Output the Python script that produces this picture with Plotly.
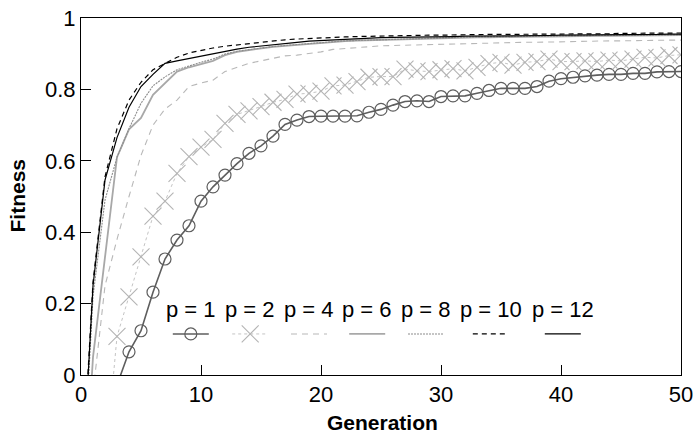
import plotly.graph_objects as go

generations = list(range(0, 51))

p1 = [-0.6, -0.4, -0.2, -0.028, 0.065, 0.124, 0.232, 0.325, 0.378, 0.418,
      0.487, 0.527, 0.56, 0.592, 0.621, 0.642, 0.669, 0.702, 0.714, 0.724,
      0.725, 0.725, 0.725, 0.726, 0.736, 0.744, 0.756, 0.766, 0.768, 0.766,
      0.78, 0.782, 0.782, 0.789, 0.797, 0.803, 0.803, 0.803, 0.808, 0.823,
      0.83, 0.834, 0.838, 0.84, 0.842, 0.842, 0.845, 0.845, 0.849, 0.85, 0.85]

p2 = [-0.9, -0.6, -0.26, 0.108, 0.219, 0.331, 0.445, 0.487, 0.565, 0.612,
      0.638, 0.66, 0.705, 0.73, 0.74, 0.752, 0.764, 0.772, 0.787, 0.789,
      0.795, 0.81, 0.812, 0.822, 0.834, 0.836, 0.836, 0.857, 0.852, 0.85,
      0.855, 0.858, 0.852, 0.862, 0.872, 0.876, 0.868, 0.876, 0.878, 0.885,
      0.878, 0.878, 0.88, 0.878, 0.882, 0.88, 0.885, 0.89, 0.888, 0.895, 0.897]

p4 = [-0.6, -0.05, 0.25, 0.38, 0.50, 0.615, 0.70, 0.745, 0.77, 0.808,
      0.818, 0.826, 0.85, 0.862, 0.873, 0.88, 0.888, 0.894, 0.896, 0.90,
      0.905, 0.912, 0.915, 0.918, 0.92, 0.922, 0.923, 0.924, 0.924, 0.925,
      0.925, 0.926, 0.927, 0.928, 0.929, 0.93, 0.931, 0.932, 0.932, 0.933,
      0.934, 0.934, 0.935, 0.935, 0.936, 0.936, 0.937, 0.937, 0.938, 0.938, 0.938]

p6 = [-0.5, 0.05, 0.33, 0.61, 0.688, 0.72, 0.785, 0.817, 0.85, 0.862,
      0.872, 0.88, 0.896, 0.905, 0.91, 0.915, 0.919, 0.922, 0.925, 0.928,
      0.931, 0.933, 0.935, 0.937, 0.938, 0.940, 0.941, 0.942, 0.943, 0.944,
      0.944, 0.945, 0.945, 0.946, 0.946, 0.947, 0.947, 0.948, 0.948, 0.948,
      0.949, 0.949, 0.949, 0.950, 0.950, 0.950, 0.951, 0.951, 0.951, 0.952, 0.952]

p8 = [-0.4, 0.22, 0.49, 0.61, 0.69, 0.761, 0.81, 0.835, 0.855, 0.866,
      0.876, 0.885, 0.899, 0.907, 0.912, 0.917, 0.92, 0.923, 0.926, 0.929,
      0.932, 0.934, 0.936, 0.937, 0.938, 0.941, 0.942, 0.943, 0.944, 0.945,
      0.945, 0.946, 0.946, 0.947, 0.947, 0.948, 0.948, 0.949, 0.949, 0.949,
      0.950, 0.950, 0.950, 0.951, 0.951, 0.951, 0.952, 0.952, 0.952, 0.953, 0.953]

p10 = [-0.35, 0.26, 0.555, 0.69, 0.77, 0.82, 0.855, 0.873, 0.89, 0.902,
       0.91, 0.916, 0.921, 0.925, 0.929, 0.933, 0.936, 0.939, 0.941, 0.943,
       0.945, 0.946, 0.947, 0.948, 0.949, 0.950, 0.950, 0.951, 0.951, 0.952,
       0.952, 0.953, 0.953, 0.953, 0.954, 0.954, 0.954, 0.955, 0.955, 0.955,
       0.955, 0.956, 0.956, 0.956, 0.956, 0.957, 0.957, 0.957, 0.957, 0.958, 0.958]

p12 = [-0.37, 0.25, 0.546, 0.665, 0.75, 0.808, 0.842, 0.873, 0.88, 0.887,
       0.894, 0.9, 0.907, 0.913, 0.918, 0.922, 0.926, 0.929, 0.932, 0.935,
       0.937, 0.939, 0.941, 0.943, 0.944, 0.945, 0.946, 0.946, 0.947, 0.947,
       0.948, 0.948, 0.949, 0.949, 0.950, 0.950, 0.950, 0.951, 0.951, 0.951,
       0.952, 0.952, 0.952, 0.953, 0.953, 0.953, 0.954, 0.954, 0.954, 0.955, 0.955]

series_names = ["p = 1", "p = 2", "p = 4", "p = 6", "p = 8", "p = 10", "p = 12"]
series_values = [p1, p2, p4, p6, p8, p10, p12]

x_ticks = [0, 10, 20, 30, 40, 50]
y_ticks = [0, 0.2, 0.4, 0.6, 0.8, 1]
y_ticklabels = ["0", "0.2", "0.4", "0.6", "0.8", "1"]
x_title = "Generation"
y_title = "Fitness"

FONT = "Liberation Sans, Arial, sans-serif"

styles = [
    dict(line=dict(color="#5e5e5e", width=1.6, dash="solid"),
         marker=dict(symbol="circle-open", size=12, color="#5e5e5e", line=dict(width=1.2, color="#5e5e5e")),
         mode="lines+markers"),
    dict(line=dict(color="#c4c4c4", width=1, dash="dot"),
         marker=dict(symbol="x-thin-open", size=17, color="#b4b4b4", line=dict(width=1.1, color="#b4b4b4")),
         mode="lines+markers"),
    dict(line=dict(color="#b8b8b8", width=1.1, dash="6px,5px"), mode="lines"),
    dict(line=dict(color="#a8a8a8", width=1.8, dash="solid"), mode="lines"),
    dict(line=dict(color="#8c8c8c", width=1.1, dash="2px,1px"), mode="lines"),
    dict(line=dict(color="#000000", width=1.2, dash="5px,4px"), mode="lines"),
    dict(line=dict(color="#000000", width=1.2, dash="solid"), mode="lines"),
]

# legend layout (plot-area fractions): entry centres, sample row, text row
legend_cx = [0.183, 0.282, 0.380, 0.477, 0.575, 0.683, 0.803]
legend_half = 0.030
legend_sample_y = 0.115
legend_text_y = 0.183

fig = go.Figure()

for name, vals, st in zip(series_names, series_values, styles):
    kw = dict(x=generations, y=vals, name=name, mode=st["mode"], line=st["line"],
              showlegend=False, cliponaxis=True)
    if "marker" in st:
        kw["marker"] = st["marker"]
    fig.add_trace(go.Scatter(**kw))

# custom legend samples on an overlay axis pair
for cx, st in zip(legend_cx, styles):
    fig.add_trace(go.Scatter(
        x=[cx - legend_half, cx + legend_half], y=[legend_sample_y, legend_sample_y],
        mode="lines", line=st["line"], xaxis="x2", yaxis="y2", showlegend=False,
        hoverinfo="skip"))
    if "marker" in st:
        fig.add_trace(go.Scatter(
            x=[cx], y=[legend_sample_y], mode="markers", marker=st["marker"],
            xaxis="x2", yaxis="y2", showlegend=False, hoverinfo="skip"))

for cx, name in zip(legend_cx, series_names):
    fig.add_annotation(x=cx, y=legend_text_y, xref="paper", yref="paper",
                       text=name, showarrow=False, xanchor="center", yanchor="middle",
                       font=dict(size=22, color="#000000", family=FONT))

# axis titles
fig.add_annotation(x=0.502, y=-0.132, xref="paper", yref="paper", text="<b>%s</b>" % x_title,
                   showarrow=False, xanchor="center", yanchor="middle",
                   font=dict(size=21, color="#000000", family=FONT))
fig.add_annotation(x=-0.106, y=0.504, xref="paper", yref="paper", text="<b>%s</b>" % y_title,
                   showarrow=False, xanchor="center", yanchor="middle", textangle=-90,
                   font=dict(size=21, color="#000000", family=FONT))

axis_common = dict(showgrid=False, zeroline=False, showline=True, linecolor="#000000",
                   linewidth=1, mirror=True, ticks="inside", ticklen=10, tickwidth=1,
                   tickcolor="#000000", automargin=False, ticklabeloverflow="allow",
                   tickfont=dict(size=22, color="#000000", family=FONT))

fig.update_layout(
    width=693, height=434,
    margin=dict(l=81, r=12, t=18, b=59),
    paper_bgcolor="white", plot_bgcolor="white",
    font=dict(family=FONT, color="#000000"),
    xaxis=dict(range=[0, 50], tickvals=x_ticks, **axis_common),
    yaxis=dict(range=[0, 1], tickvals=y_ticks, ticktext=y_ticklabels, **axis_common),
    xaxis2=dict(overlaying="x", range=[0, 1], visible=False),
    yaxis2=dict(overlaying="y", range=[0, 1], visible=False),
)

fig.write_html("out.html")
